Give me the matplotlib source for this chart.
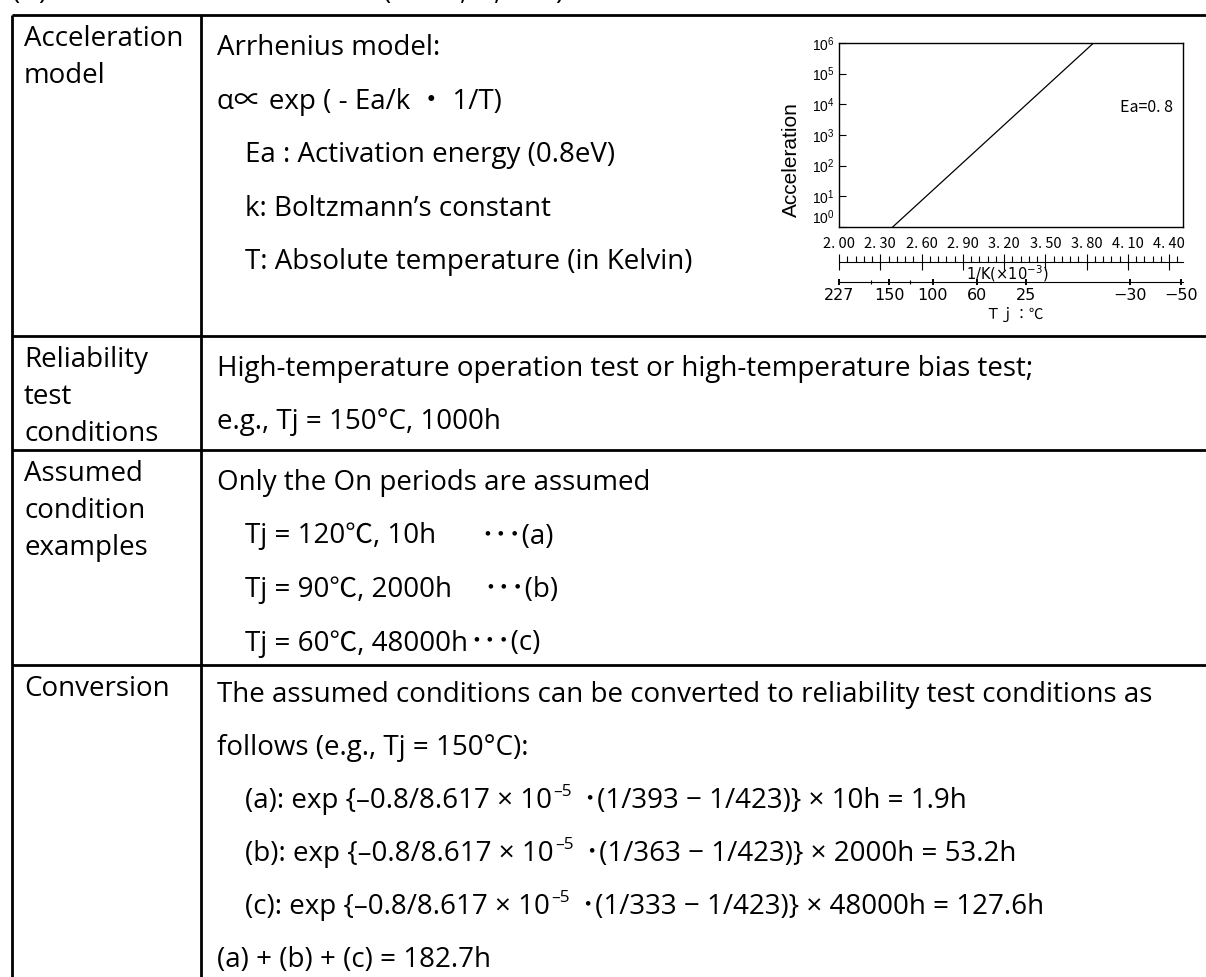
import numpy as np
import matplotlib
matplotlib.use("Agg")
import matplotlib.pyplot as plt

# inset chart values
inv_k_ticks = [2.00, 2.30, 2.60, 2.90, 3.20, 3.50, 3.80, 4.10, 4.40]
inv_k_labels = ["2. 00", "2. 30", "2. 60", "2. 90", "3. 20", "3. 50", "3. 80", "4. 10", "4. 40"]
accel_exp = [0, 1, 2, 3, 4, 5, 6]
line_inv_k = [2.39, 3.85]
line_accel = [1.0, 1.0e6]
tj_ticks = [227, 150, 100, 60, 25, -30, -50]
tj_minor = [175, 125]

# table text
heads = [["Acceleration", "model"],
         ["Reliability", "test", "conditions"],
         ["Assumed", "condition", "examples"],
         ["Conversion"]]
model_lines = ["Arrhenius model:",
               "α∝ exp ( - Ea/k ・ 1/T)",
               "Ea : Activation energy (0.8eV)",
               "k: Boltzmann’s constant",
               "T: Absolute temperature (in Kelvin)"]
model_indent = [0, 0, 1, 1, 1]
test_lines = ["High-temperature operation test or high-temperature bias test;",
              "e.g., Tj = 150°C, 1000h"]
assumed_intro = "Only the On periods are assumed"
cases = ["a", "b", "c"]
case_temp_c = [120, 90, 60]
case_hours = [10, 2000, 48000]
case_temp_k = [393, 363, 333]
case_result = [1.9, 53.2, 127.6]
conv_intro = ["The assumed conditions can be converted to reliability test conditions as",
              "follows (e.g., Tj = 150°C):"]
total_hours = 182.7

W, H = 1206, 977
fig = plt.figure(figsize=(W / 100, H / 100), dpi=100)
ax = fig.add_axes([0, 0, 1, 1])
ax.set_xlim(0, W)
ax.set_ylim(H, 0)
ax.axis("off")

body = ["Open Sans", "Noto Sans CJK JP", "DejaVu Sans"]
r = fig.canvas.get_renderer()
probe = ax.text(0, 0, test_lines[0], fontsize=20, family=body)
fs = 20 * 816 / probe.get_window_extent(r).width
probe.remove()

# table grid
row_top = [15, 336, 450, 665]
ax.hlines(row_top, 11.5, W, color="black", lw=2)
ax.vlines([11.5, 201], 15, H, color="black", lw=2)

# cut-off heading above the table
for gx, g in [(12, "("), (38, ")"), (383, "("), (460, ","), (494, ","), (555, ")")]:
    ax.text(gx, -1, g, fontsize=fs, family=body, va="baseline")

head_x, text_x, ind_x = 24, 217, 245
hstep, bstep = 37, 53.5


def put(x, y, s, **kw):
    return ax.text(x, y, s, fontsize=fs, family=body, va="baseline", **kw)


for top, lines in zip(row_top, heads):
    for i, s in enumerate(lines):
        put(head_x, top + 31 + i * hstep, s)

# row 1
for i, (s, ind) in enumerate(zip(model_lines, model_indent)):
    put(ind_x if ind else text_x, row_top[0] + 40 + i * bstep, s)

# row 2
for i, s in enumerate(test_lines):
    put(text_x, row_top[1] + 40 + i * bstep, s)

# row 3
y0 = row_top[2] + 40
put(text_x, y0, assumed_intro)
tag_x = [480, 483, None]
for i, (c, t, h) in enumerate(zip(cases, case_temp_c, case_hours)):
    y = y0 + (i + 1) * bstep
    t1 = put(ind_x, y, f"Tj = {t}℃, {h}h")
    tag = f"･･･({c})"
    if tag_x[i] is not None:
        put(tag_x[i], y, tag)
    else:
        ax.annotate(tag, xy=(1, y), xycoords=(t1, "data"), xytext=(1, 0),
                    textcoords="offset points", fontsize=fs, family=body, va="baseline")

# row 4
y0 = row_top[3] + 37
cstep = 53
for i, s in enumerate(conv_intro):
    put(text_x, y0 + i * cstep, s)
for i, (c, tk, h, res) in enumerate(zip(cases, case_temp_k, case_hours, case_result)):
    y = y0 + (i + 2) * cstep
    t1 = put(ind_x, y, f"({c}): exp {{–0.8/8.617 × 10")
    t2 = ax.annotate("–5", xy=(1, y), xycoords=(t1, "data"), xytext=(1, 0.42 * fs),
                     textcoords="offset points", fontsize=fs * 0.62, family=body, va="baseline")
    ax.annotate(f" ･(1/{tk} − 1/423)}} × {h}h = {res}h", xy=(1, y), xycoords=(t2, "data"),
                xytext=(3, 0), textcoords="offset points", fontsize=fs, family=body, va="baseline")
put(text_x, y0 + 5 * cstep, f"(a) + (b) + (c) = {total_hours}h")

# inset chart
x0, x1 = 839, 1183
ins = fig.add_axes([x0 / W, 1 - 227 / H, (x1 - x0) / W, (227 - 43) / H])
ins.plot(line_inv_k, line_accel, color="black", lw=0.9)
ins.set_yscale("log")
ins.set_xlim(2.0, 4.5)
ins.set_ylim(1, 1e6)
ins.set_yticks([10.0 ** e for e in accel_exp])
ins.set_yticklabels([r"$\mathregular{10^{%d}}$" % e for e in accel_exp],
                    family="Liberation Sans", fontsize=10)
ins.yaxis.set_minor_locator(matplotlib.ticker.NullLocator())
ins.tick_params(axis="y", direction="in", length=5, width=0.8, pad=3)
ins.get_yticklabels()[0].set_verticalalignment("bottom")
ins.set_xticks(inv_k_ticks)
ins.set_xticklabels(inv_k_labels, family="Noto Sans CJK JP", fontsize=10.5)
ins.tick_params(axis="x", length=0, pad=7)
for sp in ins.spines.values():
    sp.set_linewidth(1.0)
ins.set_ylabel("Acceleration", fontsize=15, family="Liberation Sans")
ins.yaxis.set_label_coords(-0.11, 0.364)
ins.text(0.895, 0.652, "Ea=0. 8", transform=ins.transAxes, ha="center", va="center",
         fontsize=11.5, family="Noto Sans CJK JP")

# 1/K scale
sc = fig.add_axes([x0 / W, 1 - 262 / H, (x1 - x0) / W, 0.0005])
sc.set_xlim(2.0, 4.5)
for k in ["left", "right", "top"]:
    sc.spines[k].set_visible(False)
sc.spines["bottom"].set_linewidth(0.8)
sc.set_yticks([])
sc.set_xticks(inv_k_ticks)
sc.set_xticklabels([])
sc.set_xticks(np.arange(2.0, 4.5, 0.06), minor=True)
sc.tick_params(which="major", direction="inout", length=11, width=0.8)
sc.tick_params(which="minor", direction="in", length=4, width=0.8)
ax.text(1007, 274, r"$\mathregular{1/K(×10^{-3})}$", ha="center", va="center",
        fontsize=10.5, family=["Liberation Sans Narrow", "DejaVu Sans"])

# Tj scale
tp = fig.add_axes([x0 / W, 1 - 282 / H, (x1 - x0) / W, 0.0005])
tp.set_xlim(2.0, 4.5)
for k in ["left", "right", "top"]:
    tp.spines[k].set_visible(False)
tp.spines["bottom"].set_linewidth(0.8)
tp.set_yticks([])
tp.set_xticks([1000 / (t + 273) for t in tj_ticks])
tp.set_xticklabels([str(t).replace("-", "−") for t in tj_ticks],
                   family=["Liberation Sans Narrow", "DejaVu Sans"], fontsize=11.5)
tp.set_xticks([1000 / (t + 273) for t in tj_minor], minor=True)
tp.tick_params(which="major", direction="inout", length=4, width=1.4, pad=2)
tp.tick_params(which="minor", direction="inout", length=3, width=0.8)
ax.text(1015, 314, "Ｔｊ：℃", ha="center", va="center", fontsize=10.5, family="Noto Sans CJK JP")

fig.savefig("out.png", dpi=100)
